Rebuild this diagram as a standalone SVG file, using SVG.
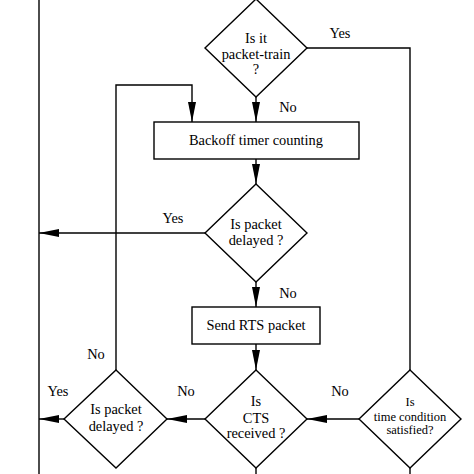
<svg xmlns="http://www.w3.org/2000/svg" width="474" height="474" viewBox="0 0 474 474">
<defs>
<marker id="ah" viewBox="0 0 20 8" refX="20" refY="4" markerWidth="20" markerHeight="8" markerUnits="userSpaceOnUse" orient="auto">
<path d="M0,0 L20,4 L0,8 Z" fill="#000"/>
</marker>
</defs>
<rect width="474" height="474" fill="#fff"/>
<g id="connectors" fill="none" stroke="#000" stroke-width="1.4">
<line x1="39" y1="0" x2="39" y2="474"/>
<polyline points="307,48 410,48 410,370"/>
<line x1="256" y1="97" x2="256" y2="122" marker-end="url(#ah)"/>
<polyline points="116,370 116,85 192,85 192,122" marker-end="url(#ah)"/>
<line x1="256" y1="159" x2="256" y2="184" marker-end="url(#ah)"/>
<line x1="205" y1="233" x2="39" y2="233" marker-end="url(#ah)"/>
<line x1="256" y1="282" x2="256" y2="307" marker-end="url(#ah)"/>
<line x1="256" y1="344" x2="256" y2="370" marker-end="url(#ah)"/>
<line x1="359" y1="419" x2="307" y2="419" marker-end="url(#ah)"/>
<line x1="205" y1="419" x2="167" y2="419" marker-end="url(#ah)"/>
<line x1="64" y1="419" x2="39" y2="419" marker-end="url(#ah)"/>
<line x1="256" y1="468" x2="256" y2="474"/>
<line x1="410" y1="468" x2="410" y2="474"/>
</g>
<g id="labels" font-family="Liberation Serif" font-size="14.4" fill="#000" text-anchor="middle">
<text x="340" y="38">Yes</text>
<text x="288" y="112">No</text>
<text x="173" y="223">Yes</text>
<text x="288" y="298">No</text>
<text x="96" y="359">No</text>
<text x="58" y="396">Yes</text>
<text x="186" y="396">No</text>
<text x="340" y="396">No</text>
</g>
<g id="nodes" font-family="Liberation Serif" font-size="14.4" text-anchor="middle">
<g id="d1">
<polygon fill="#fff" stroke="#000" stroke-width="1.4" points="256,-1 307,48 256,97 205,48"/>
<text x="256" y="43">Is it</text>
<text x="256" y="59">packet-train</text>
<text x="256" y="74">?</text>
</g>
<g id="r1">
<rect fill="#fff" stroke="#000" stroke-width="1.4" x="154" y="122" width="205" height="37"/>
<text x="256" y="145">Backoff timer counting</text>
</g>
<g id="d2">
<polygon fill="#fff" stroke="#000" stroke-width="1.4" points="256,184 307,233 256,282 205,233"/>
<text x="256" y="229">Is packet</text>
<text x="256" y="245">delayed ?</text>
</g>
<g id="r2">
<rect fill="#fff" stroke="#000" stroke-width="1.4" x="192" y="307" width="128" height="37"/>
<text x="256" y="330">Send RTS packet</text>
</g>
<g id="d3">
<polygon fill="#fff" stroke="#000" stroke-width="1.4" points="256,370 307,419 256,468 205,419"/>
<text x="256" y="406">Is</text>
<text x="256" y="423">CTS</text>
<text x="256" y="438">received ?</text>
</g>
<g id="d4">
<polygon fill="#fff" stroke="#000" stroke-width="1.4" points="116,370 167,419 116,468 64,419"/>
<text x="116" y="414">Is packet</text>
<text x="116" y="431">delayed ?</text>
</g>
<g id="d5" font-size="12.5">
<polygon fill="#fff" stroke="#000" stroke-width="1.4" points="410,370 461,419 410,468 359,419"/>
<text x="410" y="406">Is</text>
<text x="410" y="421">time condition</text>
<text x="410" y="434">satisfied?</text>
</g>
</g>
</svg>
